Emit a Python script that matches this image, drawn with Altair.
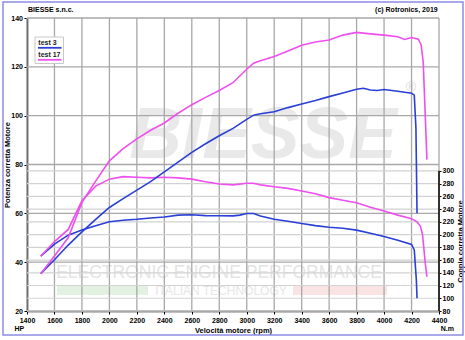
import altair as alt
import pandas as pd

# ---------------- data ----------------
series_names = ["test 3", "test 17"]
series_colors = ["#2a3fd6", "#ee4fee"]

# test 3 - power (HP)
rpm_p3 = [1500, 1600, 1700, 1800, 1900, 2000, 2100, 2200, 2300, 2400, 2500, 2600, 2700, 2800, 2900, 3000,
          3050, 3100, 3200, 3300, 3400, 3500, 3600, 3700, 3800, 3850, 3900, 3950, 4000, 4100, 4200, 4220, 4232, 4240]
hp_p3 = [35.3, 41.0, 47.0, 52.4, 57.5, 62.4, 66.0, 69.5, 73.0, 77.0, 81.0, 85.0, 88.5, 91.8, 94.8, 98.5,
         100.2, 100.8, 101.6, 103.3, 104.8, 106.2, 107.8, 109.3, 110.8, 111.2, 110.5, 110.3, 110.7, 110.0, 109.2, 108.4, 95.0, 60.0]

# test 3 - torque (N.m)
rpm_t3 = [1500, 1600, 1700, 1800, 1900, 2000, 2100, 2200, 2300, 2400, 2500, 2600, 2700, 2800, 2900,
          2950, 3000, 3050, 3100, 3200, 3300, 3400, 3500, 3600, 3700, 3800, 3900, 4000, 4100, 4200, 4220, 4235, 4240]
nm_t3 = [166, 185, 199, 207, 214, 220, 222.5, 224, 226, 227.5, 230.5, 231, 229.8, 229.5, 229.3,
         230.5, 233, 233, 229, 224, 221, 217.5, 214, 211.5, 210, 207, 202, 197, 191, 184.5, 176, 129, 100]

# test 17 - power (HP)
rpm_p17 = [1500, 1600, 1700, 1800, 1900, 2000, 2100, 2200, 2300, 2400, 2500, 2600, 2700, 2800, 2900, 3000,
           3050, 3100, 3200, 3300, 3400, 3500, 3600, 3700, 3800, 3900, 4000, 4100, 4150, 4200, 4250, 4270, 4285, 4300, 4312]
hp_p17 = [35.3, 42.5, 50.0, 64.5, 73.2, 81.5, 86.5, 90.5, 94.0, 97.0, 101.0, 104.5, 107.5, 110.3, 113.5, 119.0,
          121.5, 122.5, 124.2, 126.5, 128.8, 130.2, 131.0, 133.0, 134.1, 133.5, 133.0, 132.3, 131.2, 132.0, 131.3, 129.0, 122.0, 100.0, 82.0]

# test 17 - torque (N.m)
rpm_t17 = [1500, 1600, 1700, 1800, 1900, 2000, 2100, 2200, 2300, 2400, 2500, 2600, 2700, 2800, 2900, 3000,
           3050, 3100, 3200, 3300, 3400, 3500, 3600, 3700, 3800, 3900, 4000, 4100, 4200, 4240, 4265, 4280, 4290, 4300, 4312]
nm_t17 = [166, 189, 208, 253, 276, 287, 291, 290, 289, 290, 289, 287, 283, 279.5, 278, 280.5,
          280.5, 278, 275, 272.5, 268.5, 264, 258, 254, 250, 243, 237, 230.5, 225, 220, 213, 200, 178, 155, 134]

x_ticks = list(range(1400, 4401, 200))
hp_ticks = list(range(20, 141, 20))
nm_ticks = list(range(80, 301, 20))

# ---------------- styling ----------------
FONT = "Liberation Sans"
W, H = 412, 293
GRID_DARK = "#a8a8a8"
GRID_LIGHT = "#d2d2d2"


def long(rpm, val, name):
    return pd.DataFrame({"rpm": rpm, "v": val, "test": name, "i": list(range(len(rpm)))})


power_df = pd.concat([long(rpm_p3, hp_p3, "test 3"), long(rpm_p17, hp_p17, "test 17")])
torque_df = pd.concat([long(rpm_t3, nm_t3, "test 3"), long(rpm_t17, nm_t17, "test 17")])

x_axis = alt.Axis(values=x_ticks, grid=False, format="d", labelOverlap=False, labelBound=False,
                  domainColor="black", domainWidth=1.5, tickColor="black", tickSize=3,
                  labelFont=FONT, labelFontSize=7, labelFontWeight="bold", labelColor="black",
                  labelPadding=2, labelAlign="center", labelFlush=False,
                  title="Velocità motore (rpm)", titleFont=FONT, titleFontSize=7.5,
                  titleFontWeight="bold", titleColor="black", titleY=19, titleBaseline="middle")

left_axis = alt.Axis(values=hp_ticks, grid=False, format="d", labelOverlap=False,
                     domainColor="black", domainWidth=1.5, tickColor="black", tickSize=3,
                     labelFont=FONT, labelFontSize=7, labelFontWeight="bold", labelColor="black",
                     labelPadding=1.5, labelFlush=False,
                     title="Potenza corretta Motore", titleFont=FONT, titleFontSize=7.5,
                     titleFontWeight="bold", titleColor="black", titleAngle=270,
                     titleX=-20, titleY=H / 2, titleAlign="center", titleBaseline="middle")

right_axis = alt.Axis(orient="right", values=nm_ticks, grid=False, format="d", labelOverlap=False,
                      domain=False, tickColor="black", tickSize=2,
                      labelFont=FONT, labelFontSize=7, labelFontWeight="bold", labelColor="black",
                      labelPadding=1, labelFlush=False,
                      title="Coppia corretta Motore", titleFont=FONT, titleFontSize=7.5,
                      titleFontWeight="bold", titleColor="black", titleAngle=270,
                      titleX=21, titleY=223, titleAlign="center", titleBaseline="middle")

x_scale = alt.Scale(domain=[1400, 4400], nice=False, zero=False)
hp_scale = alt.Scale(domain=[20, 140], nice=False, zero=False)
nm_scale = alt.Scale(domain=[80, 540], nice=False, zero=False)
color_enc = alt.Color("test:N", scale=alt.Scale(domain=series_names, range=series_colors), legend=None)


def X(field):
    return alt.X(field, type="quantitative", scale=x_scale, axis=x_axis)


def txt(s, x, y, **kw):
    return alt.Chart(pd.DataFrame({"t": [s]})).mark_text(**kw).encode(
        text="t:N", x=alt.value(x), y=alt.value(y))


def box(x, x2, y, y2, **kw):
    return alt.Chart(pd.DataFrame({"a": [0]})).mark_rect(**kw).encode(
        x=alt.value(x), x2=alt.value(x2), y=alt.value(y), y2=alt.value(y2))


# ---------------- watermark ----------------
wm_green = box(30, 121, 267, 277, color="#e3f1e3")
wm_red = box(266, 360, 267, 277, color="#f9e3e3")
wm_biesse = txt("BIESSE", 236, 140, font=FONT, fontSize=73, fontWeight="bold",
                fontStyle="italic", color="#e9e9e9", align="center", baseline="alphabetic")
wm_reg = txt("®", 384, 70, font=FONT, fontSize=14, color="#dcdcdc", align="center", baseline="middle")
wm_eep = txt("ELECTRONIC ENGINE PERFORMANCE", 192, 260, font=FONT, fontSize=17.5, color="#e4e4e4",
             align="center", baseline="alphabetic")
wm_it = txt("ITALIAN TECHNOLOGY", 194, 277, font=FONT, fontSize=12, color="#e6e6e6",
            align="center", baseline="alphabetic")

# ---------------- grid (HP scale) ----------------
xgrid = alt.Chart(pd.DataFrame({"x": x_ticks})).mark_rule(color=GRID_DARK, strokeWidth=1.3).encode(
    x=X("x"), y=alt.value(0), y2=alt.value(H))
hpgrid = alt.Chart(pd.DataFrame({"h": hp_ticks})).mark_rule(color=GRID_DARK, strokeWidth=1.3).encode(
    y=alt.Y("h:Q", scale=hp_scale, axis=left_axis), x=alt.value(0), x2=alt.value(W))

layer_a = alt.layer(wm_green, wm_red, wm_biesse, wm_reg, wm_eep, wm_it, xgrid, hpgrid)

# ---------------- torque (right scale) ----------------
nmgrid = alt.Chart(pd.DataFrame({"v": nm_ticks})).mark_rule(color=GRID_LIGHT, strokeWidth=1.2).encode(
    y=alt.Y("v:Q", scale=nm_scale, axis=right_axis), x=alt.value(0), x2=alt.value(W))
torque_lines = alt.Chart(torque_df).mark_line(strokeWidth=1.6).encode(
    x=X("rpm"), y=alt.Y("v:Q", scale=nm_scale, axis=right_axis),
    color=color_enc, detail="test:N", order="i:Q")
torque_rule = alt.Chart(pd.DataFrame({"rpm": [x_ticks[-1]], "v": [nm_ticks[0]], "v2": [nm_ticks[-1]]})).mark_rule(
    color="black", strokeWidth=1.5).encode(
    x=X("rpm"), y=alt.Y("v:Q", scale=nm_scale, axis=right_axis), y2="v2:Q")

layer_b = alt.layer(nmgrid, torque_lines, torque_rule)

# ---------------- power (HP scale) + annotations ----------------
power = alt.Chart(power_df).mark_line(strokeWidth=1.6).encode(
    x=X("rpm"), y=alt.Y("v:Q", scale=hp_scale, axis=None),
    color=color_enc, detail="test:N", order="i:Q")

leg_box = box(8, 36.5, 19, 45.5, fill="white", stroke="#c8c8c8", strokeWidth=1)
leg_t1 = txt(series_names[0], 11.3, 27.3, font=FONT, fontSize=7, fontWeight="bold", color="#222",
             align="left", baseline="alphabetic")
leg_l1 = alt.Chart(pd.DataFrame({"a": [0]})).mark_rule(color=series_colors[0], strokeWidth=1.8).encode(
    x=alt.value(11), x2=alt.value(34.5), y=alt.value(29.8))
leg_t2 = txt(series_names[1], 11.3, 39.2, font=FONT, fontSize=7, fontWeight="bold", color="#222",
             align="left", baseline="alphabetic")
leg_l2 = alt.Chart(pd.DataFrame({"a": [0]})).mark_rule(color=series_colors[1], strokeWidth=1.8).encode(
    x=alt.value(11), x2=alt.value(34.5), y=alt.value(41.8))

hdr_l = txt("BIESSE s.n.c.", 1, -5.7, font=FONT, fontSize=7, fontWeight="bold", color="black",
            align="left", baseline="alphabetic")
hdr_r = txt("(c) Rotronics, 2019", 410.7, -5.7, font=FONT, fontSize=7, fontWeight="bold", color="black",
            align="right", baseline="alphabetic")
unit_hp = txt("HP", -7.7, 313, font=FONT, fontSize=7, fontWeight="bold", color="black",
              align="center", baseline="alphabetic")
unit_nm = txt("N.m", 413.7, 313, font=FONT, fontSize=7, fontWeight="bold", color="black",
              align="left", baseline="alphabetic")
frame = box(-24, 436, -16, 317, fillOpacity=0, stroke="#8c8ce4", strokeWidth=1.5)

layer_c = alt.layer(power, leg_box, leg_t1, leg_l1, leg_t2, leg_l2, hdr_l, hdr_r, unit_hp, unit_nm, frame)

chart = alt.layer(layer_a, layer_b, layer_c).resolve_scale(y="independent").properties(
    width=W, height=H,
    padding={"left": 27, "top": 18, "right": 26, "bottom": 29},
    autosize=alt.AutoSizeParams(type="none"),
    background="white",
).configure_view(stroke=None)

chart.save("out.html", embed_options={"renderer": "svg", "actions": False})
